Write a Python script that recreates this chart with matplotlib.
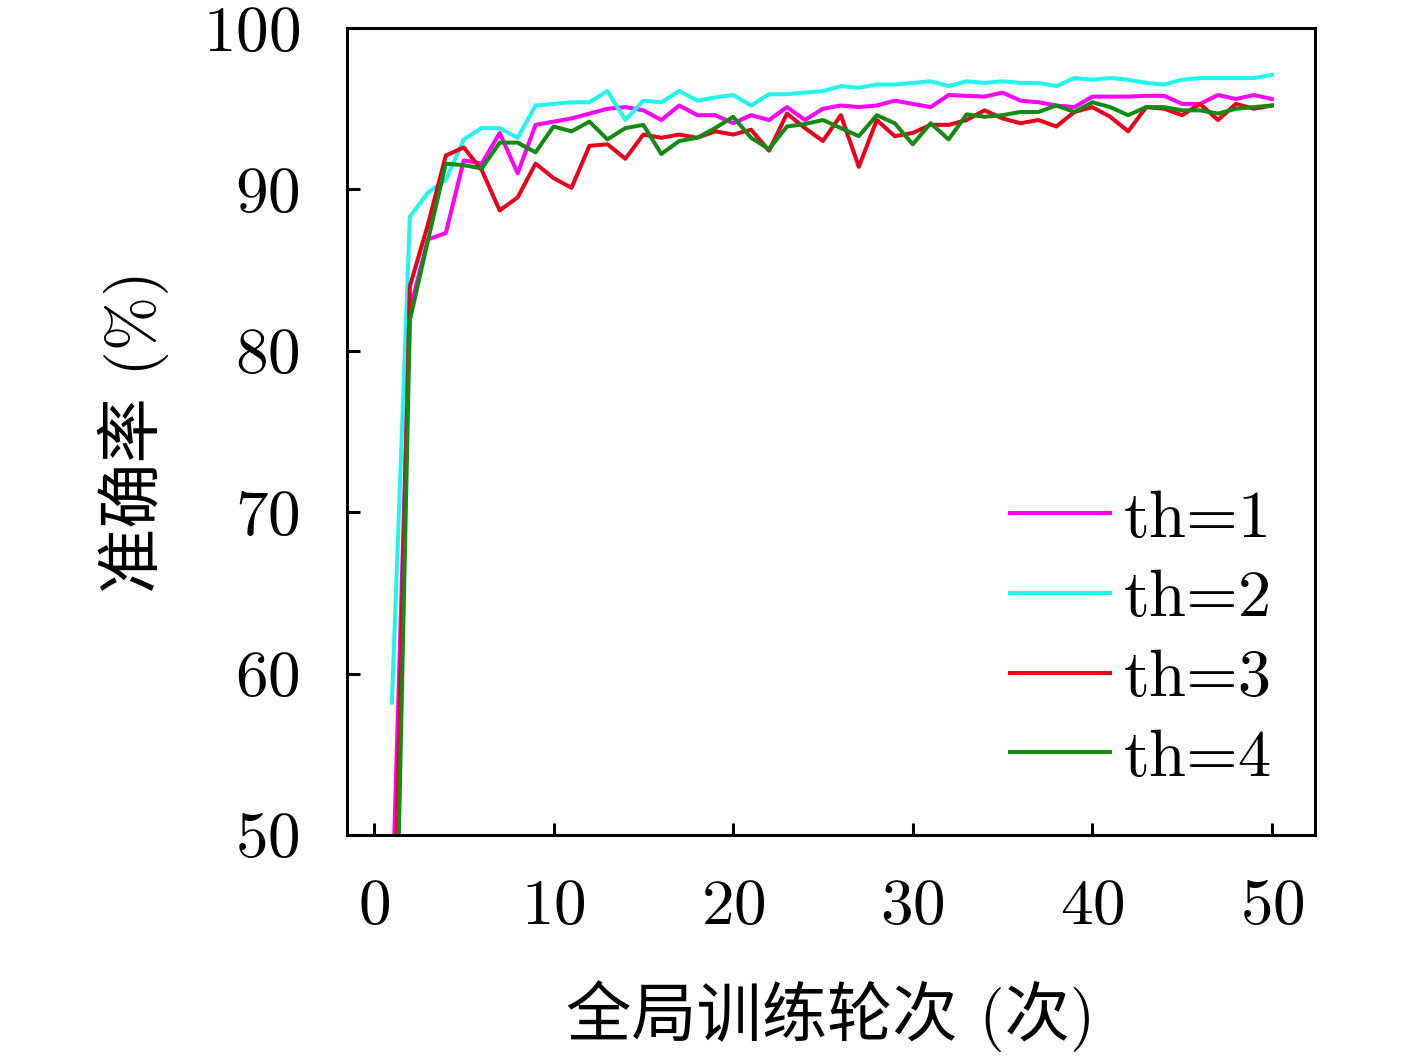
import matplotlib
matplotlib.use('Agg')
import matplotlib.pyplot as plt

plt.rcParams['font.family'] = ['cmr10', 'Noto Sans CJK SC']
plt.rcParams['mathtext.fontset'] = 'cm'
plt.rcParams['axes.formatter.use_mathtext'] = True

epochs = list(range(1, 51))
acc_th1 = [45.0, 82.5, 86.9, 87.3, 91.8, 91.6, 93.5, 91.0, 94.0, 94.2,
           94.4, 94.7, 95.0, 95.1, 94.9, 94.3, 95.2, 94.6, 94.6, 94.1,
           94.6, 94.3, 95.1, 94.3, 95.0, 95.2, 95.1, 95.2, 95.5, 95.3,
           95.1, 95.85, 95.8, 95.75, 96.0, 95.5, 95.4, 95.2, 95.1, 95.75,
           95.75, 95.75, 95.8, 95.8, 95.3, 95.3, 95.85, 95.6, 95.85, 95.6]
acc_th2 = [58.2, 88.3, 89.8, 90.6, 93.1, 93.8, 93.8, 93.2, 95.2, 95.3,
           95.4, 95.4, 96.1, 94.3, 95.5, 95.4, 96.1, 95.5, 95.7, 95.85,
           95.2, 95.9, 95.9, 96.0, 96.1, 96.4, 96.3, 96.5, 96.5, 96.6,
           96.7, 96.4, 96.7, 96.6, 96.7, 96.6, 96.6, 96.4, 96.9, 96.8,
           96.9, 96.8, 96.6, 96.5, 96.8, 96.9, 96.9, 96.9, 96.9, 97.1]
acc_th3 = [38.0, 84.0, 87.8, 92.1, 92.6, 91.2, 88.7, 89.5, 91.6, 90.7,
           90.1, 92.7, 92.8, 91.9, 93.4, 93.2, 93.4, 93.2, 93.6, 93.4,
           93.7, 92.4, 94.7, 93.8, 93.0, 94.6, 91.4, 94.3, 93.3, 93.5,
           94.0, 94.0, 94.3, 94.9, 94.4, 94.1, 94.3, 93.9, 94.8, 95.1,
           94.5, 93.6, 95.1, 95.0, 94.6, 95.3, 94.3, 95.3, 95.0, 95.2]
acc_th4 = [30.0, 81.9, 86.8, 91.6, 91.5, 91.3, 92.9, 92.9, 92.3, 93.9,
           93.6, 94.2, 93.1, 93.8, 94.0, 92.2, 93.0, 93.2, 93.8, 94.5,
           93.2, 92.5, 93.9, 94.05, 94.3, 93.8, 93.3, 94.6, 94.1, 92.8,
           94.1, 93.1, 94.65, 94.5, 94.6, 94.8, 94.8, 95.2, 94.8, 95.4,
           95.1, 94.6, 95.1, 95.1, 94.9, 94.9, 94.7, 95.0, 95.1, 95.2]

series = [('th=1', acc_th1, '#ff00ff'),
          ('th=2', acc_th2, '#22f5ee'),
          ('th=3', acc_th3, '#e8001c'),
          ('th=4', acc_th4, '#138a13')]

fig = plt.figure(figsize=(14.17, 10.58), dpi=100)
ax = fig.add_axes([0.2449, 0.2108, 0.6831, 0.7627])

for label, vals, color in series:
    ax.plot(epochs, vals, color=color, lw=2.9, label=label)

ax.set_xlim(-1.5, 52.4)
ax.set_ylim(50, 100)
ax.set_xticks([0, 10, 20, 30, 40, 50])
ax.set_yticks([50, 60, 70, 80, 90, 100])
for s in ax.spines.values():
    s.set_linewidth(2.2)
ax.tick_params(direction='in', length=9, width=2.2, labelsize=47, pad=34,
               top=False, right=False)
ax.tick_params(axis='x', pad=32)

ax.set_xlabel('全局训练轮次 (次)', fontsize=47, labelpad=31)
ax.set_ylabel('准确率 (%)', fontsize=47, labelpad=24)

leg = ax.legend(loc='upper left', bbox_to_anchor=(0.7128, 0.537),
                bbox_transform=fig.transFigure, frameon=False, fontsize=48,
                handlelength=1.5, handletextpad=0.2, labelspacing=0.3,
                borderpad=0, borderaxespad=0)

fig.savefig('out.png', dpi=100)
